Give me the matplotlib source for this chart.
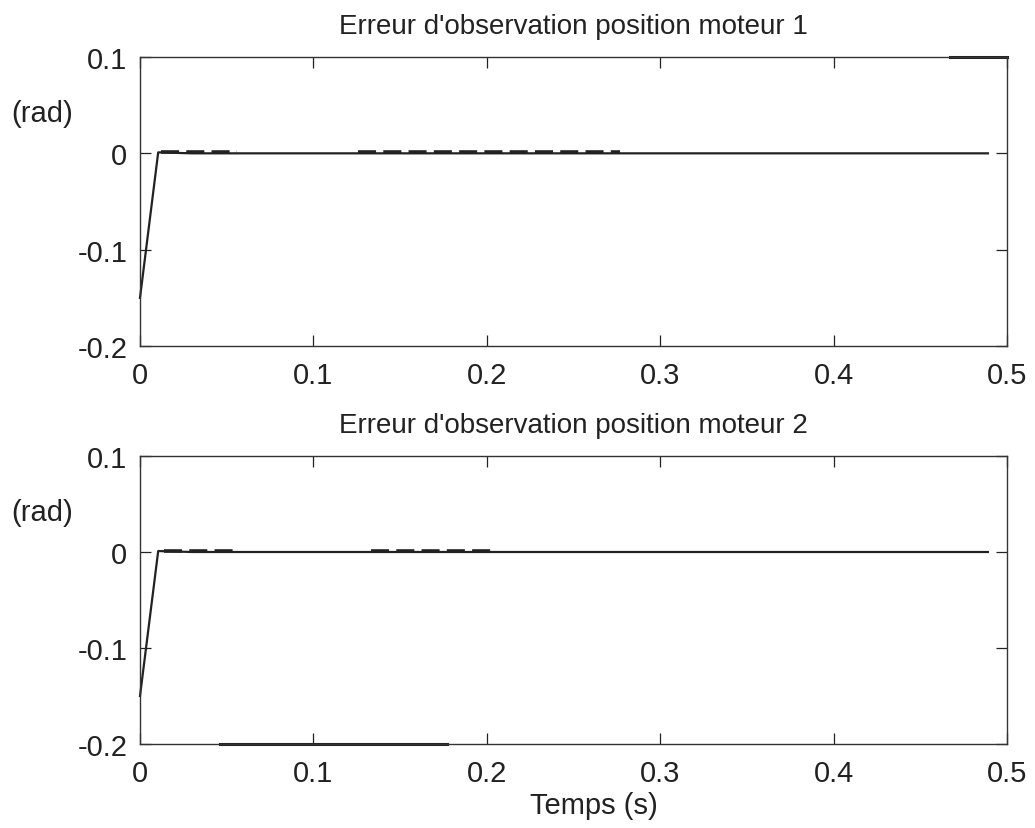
import matplotlib
matplotlib.use("Agg")
import matplotlib.pyplot as plt

plt.rcParams["font.family"] = ["Liberation Sans", "DejaVu Sans"]

# Erreur d'observation (rad) -- main trace
t_main = [0.0, 0.0105, 0.03, 0.1, 0.2, 0.3, 0.4, 0.489]
err1 = [-0.150, 0.001, 0.0, 0.0, 0.0, 0.0, 0.0, 0.0]
err2 = [-0.150, 0.001, 0.0, 0.0, 0.0, 0.0, 0.0, 0.0]

# small ripple parts drawn dashed just above zero
rip1_t = [[0.012, 0.056], [0.126, 0.277]]
rip2_t = [[0.014, 0.056], [0.133, 0.203]]
rip_val = 0.0015

# segments laying on the frame
edge1_t = [0.467, 0.5]
edge1_y = 0.1
edge2_t = [0.046, 0.177]
edge2_y = -0.2

titles = ["Erreur d'observation position moteur 1",
          "Erreur d'observation position moteur 2"]
xticks = [0, 0.1, 0.2, 0.3, 0.4, 0.5]
xticklabels = ["0", "0.1", "0.2", "0.3", "0.4", "0.5"]
yticks = [-0.2, -0.1, 0, 0.1]
yticklabels = ["-0.2", "-0.1", "0", "0.1"]

W, H = 1035, 829
fig = plt.figure(figsize=(W / 100, H / 100), dpi=100)
left, width = 140 / W, 867 / W
ax1 = fig.add_axes([left, 1 - 347 / H, width, 289 / H])
ax2 = fig.add_axes([left, 1 - 745 / H, width, 288 / H])

series = [(ax1, err1, rip1_t, edge1_t, edge1_y),
          (ax2, err2, rip2_t, edge2_t, edge2_y)]

for i, (ax, err, rips, et, ey) in enumerate(series):
    ax.plot(t_main, err, color="#222222", linewidth=1.6, clip_on=False)
    for a, b in rips:
        ax.plot([a, b], [rip_val, rip_val], color="#222222", linewidth=2.6,
                linestyle=(0, (5, 2)))
    ax.plot(et, [ey, ey], color="#222222", linewidth=2.2, clip_on=False)

    ax.set_xlim(0, 0.5)
    ax.set_ylim(-0.2, 0.1)
    ax.set_xticks(xticks)
    ax.set_xticklabels(xticklabels)
    ax.set_yticks(yticks)
    ax.set_yticklabels(yticklabels)
    ax.tick_params(direction="in", length=8, width=0.9, top=True, right=True,
                   labelsize=21, colors="#222222")
    ax.tick_params(axis="x", pad=11)
    ax.tick_params(axis="y", pad=9)
    for sp in ax.spines.values():
        sp.set_linewidth(1.0)
        sp.set_color("#333333")
    ax.set_title(titles[i], fontsize=20, color="#222222", pad=17)
    ax.text(-0.074, 0.042, "(rad)", fontsize=21, color="#222222",
            ha="left", va="center", transform=ax.transData, clip_on=False)

fig.text(594 / W, 1 - 806 / H, "Temps (s)", fontsize=21, color="#222222",
         ha="center", va="center")

fig.savefig("out.png", dpi=100)
